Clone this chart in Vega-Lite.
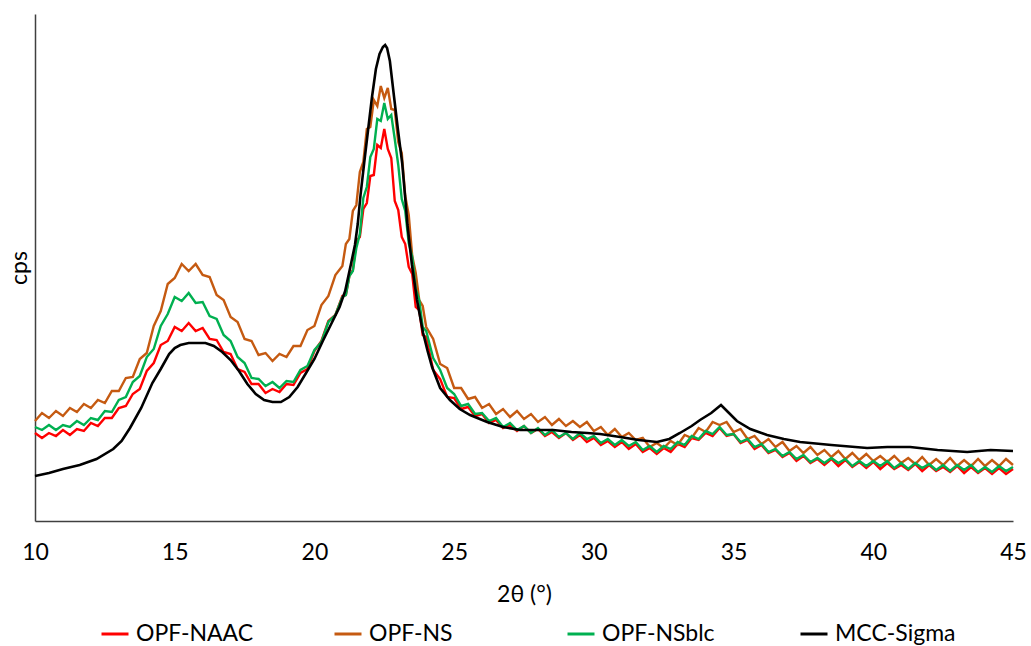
{
"$schema": "https://vega.github.io/schema/vega-lite/v6.json",
"width": 978, "height": 507,
"autosize": {"type": "none"},
"padding": {"left": 35, "top": 14, "right": 18, "bottom": 125},
"config": {"view": {"stroke": null}, "font": "Lato", "axis": {"grid": false}},
"layer": [
{
"data": {"values": [
{"t":10,"OPF-NAAC":88,"OPF-NS":100,"OPF-NSblc":94},
{"t":10.25,"OPF-NAAC":83,"OPF-NS":108,"OPF-NSblc":91},
{"t":10.5,"OPF-NAAC":88,"OPF-NS":103,"OPF-NSblc":96},
{"t":10.75,"OPF-NAAC":85,"OPF-NS":110,"OPF-NSblc":91},
{"t":11,"OPF-NAAC":91,"OPF-NS":105,"OPF-NSblc":96},
{"t":11.25,"OPF-NAAC":86,"OPF-NS":113,"OPF-NSblc":94},
{"t":11.5,"OPF-NAAC":92,"OPF-NS":109,"OPF-NSblc":100},
{"t":11.75,"OPF-NAAC":90,"OPF-NS":117,"OPF-NSblc":96},
{"t":12,"OPF-NAAC":98,"OPF-NS":113,"OPF-NSblc":103},
{"t":12.25,"OPF-NAAC":95,"OPF-NS":121,"OPF-NSblc":101},
{"t":12.5,"OPF-NAAC":103,"OPF-NS":118,"OPF-NSblc":110},
{"t":12.75,"OPF-NAAC":103,"OPF-NS":130,"OPF-NSblc":109},
{"t":13,"OPF-NAAC":113,"OPF-NS":130,"OPF-NSblc":121},
{"t":13.25,"OPF-NAAC":115,"OPF-NS":143,"OPF-NSblc":124},
{"t":13.5,"OPF-NAAC":127,"OPF-NS":144,"OPF-NSblc":139},
{"t":13.75,"OPF-NAAC":132,"OPF-NS":162,"OPF-NSblc":145},
{"t":14,"OPF-NAAC":150,"OPF-NS":168,"OPF-NSblc":164},
{"t":14.25,"OPF-NAAC":158,"OPF-NS":195,"OPF-NSblc":172},
{"t":14.5,"OPF-NAAC":176,"OPF-NS":210,"OPF-NSblc":195},
{"t":14.75,"OPF-NAAC":180,"OPF-NS":237,"OPF-NSblc":207},
{"t":15,"OPF-NAAC":194,"OPF-NS":243,"OPF-NSblc":224},
{"t":15.25,"OPF-NAAC":190,"OPF-NS":257,"OPF-NSblc":220},
{"t":15.5,"OPF-NAAC":198,"OPF-NS":250,"OPF-NSblc":228},
{"t":15.75,"OPF-NAAC":190,"OPF-NS":257,"OPF-NSblc":218},
{"t":16,"OPF-NAAC":193,"OPF-NS":246,"OPF-NSblc":219},
{"t":16.25,"OPF-NAAC":182,"OPF-NS":244,"OPF-NSblc":205},
{"t":16.5,"OPF-NAAC":181,"OPF-NS":226,"OPF-NSblc":202},
{"t":16.75,"OPF-NAAC":169,"OPF-NS":221,"OPF-NSblc":186},
{"t":17,"OPF-NAAC":167,"OPF-NS":204,"OPF-NSblc":180},
{"t":17.25,"OPF-NAAC":152,"OPF-NS":199,"OPF-NSblc":164},
{"t":17.5,"OPF-NAAC":149,"OPF-NS":182,"OPF-NSblc":158},
{"t":17.75,"OPF-NAAC":137,"OPF-NS":180,"OPF-NSblc":143},
{"t":18,"OPF-NAAC":137,"OPF-NS":166,"OPF-NSblc":142},
{"t":18.25,"OPF-NAAC":128,"OPF-NS":168,"OPF-NSblc":135},
{"t":18.5,"OPF-NAAC":132,"OPF-NS":160,"OPF-NSblc":139},
{"t":18.75,"OPF-NAAC":129,"OPF-NS":167,"OPF-NSblc":133},
{"t":19,"OPF-NAAC":137,"OPF-NS":164,"OPF-NSblc":140},
{"t":19.25,"OPF-NAAC":136,"OPF-NS":175,"OPF-NSblc":139},
{"t":19.5,"OPF-NAAC":148,"OPF-NS":175,"OPF-NSblc":151},
{"t":19.75,"OPF-NAAC":152,"OPF-NS":191,"OPF-NSblc":155},
{"t":20,"OPF-NAAC":170,"OPF-NS":195,"OPF-NSblc":171},
{"t":20.25,"OPF-NAAC":180,"OPF-NS":216,"OPF-NSblc":179},
{"t":20.5,"OPF-NAAC":200,"OPF-NS":225,"OPF-NSblc":199},
{"t":20.75,"OPF-NAAC":206,"OPF-NS":246,"OPF-NSblc":206},
{"t":21,"OPF-NAAC":225,"OPF-NS":255,"OPF-NSblc":224},
{"t":21.125,"OPF-NAAC":226,"OPF-NS":277,"OPF-NSblc":226},
{"t":21.25,"OPF-NAAC":245,"OPF-NS":282,"OPF-NSblc":245},
{"t":21.375,"OPF-NAAC":251,"OPF-NS":310,"OPF-NSblc":250},
{"t":21.5,"OPF-NAAC":280,"OPF-NS":316,"OPF-NSblc":273},
{"t":21.625,"OPF-NAAC":284,"OPF-NS":349,"OPF-NSblc":287},
{"t":21.75,"OPF-NAAC":312,"OPF-NS":359,"OPF-NSblc":323},
{"t":21.875,"OPF-NAAC":318,"OPF-NS":392,"OPF-NSblc":334},
{"t":22,"OPF-NAAC":345,"OPF-NS":394,"OPF-NSblc":364},
{"t":22.125,"OPF-NAAC":346,"OPF-NS":421,"OPF-NSblc":372},
{"t":22.25,"OPF-NAAC":376,"OPF-NS":415,"OPF-NSblc":402},
{"t":22.375,"OPF-NAAC":373,"OPF-NS":435,"OPF-NSblc":400},
{"t":22.5,"OPF-NAAC":392,"OPF-NS":423,"OPF-NSblc":418},
{"t":22.625,"OPF-NAAC":372,"OPF-NS":433,"OPF-NSblc":402},
{"t":22.75,"OPF-NAAC":363,"OPF-NS":412,"OPF-NSblc":406},
{"t":22.875,"OPF-NAAC":320,"OPF-NS":411,"OPF-NSblc":382},
{"t":23,"OPF-NAAC":311,"OPF-NS":379,"OPF-NSblc":356},
{"t":23.125,"OPF-NAAC":284,"OPF-NS":368,"OPF-NSblc":322},
{"t":23.25,"OPF-NAAC":277,"OPF-NS":325,"OPF-NSblc":310},
{"t":23.375,"OPF-NAAC":254,"OPF-NS":306,"OPF-NSblc":278},
{"t":23.5,"OPF-NAAC":247,"OPF-NS":265,"OPF-NSblc":264},
{"t":23.625,"OPF-NAAC":214,"OPF-NS":248,"OPF-NSblc":232},
{"t":23.75,"OPF-NAAC":211,"OPF-NS":221,"OPF-NSblc":221},
{"t":23.875,"OPF-NAAC":186,"OPF-NS":215,"OPF-NSblc":194},
{"t":24,"OPF-NAAC":184,"OPF-NS":194,"OPF-NSblc":190},
{"t":24.25,"OPF-NAAC":151,"OPF-NS":182,"OPF-NSblc":163},
{"t":24.5,"OPF-NAAC":142,"OPF-NS":157,"OPF-NSblc":151},
{"t":24.75,"OPF-NAAC":124,"OPF-NS":153,"OPF-NSblc":133},
{"t":25,"OPF-NAAC":123,"OPF-NS":133,"OPF-NSblc":127},
{"t":25.25,"OPF-NAAC":112,"OPF-NS":133,"OPF-NSblc":115},
{"t":25.5,"OPF-NAAC":114,"OPF-NS":122,"OPF-NSblc":117},
{"t":25.75,"OPF-NAAC":105,"OPF-NS":124,"OPF-NSblc":107},
{"t":26,"OPF-NAAC":107,"OPF-NS":113,"OPF-NSblc":108},
{"t":26.25,"OPF-NAAC":98,"OPF-NS":117,"OPF-NSblc":100},
{"t":26.5,"OPF-NAAC":101,"OPF-NS":107,"OPF-NSblc":103},
{"t":26.75,"OPF-NAAC":93,"OPF-NS":112,"OPF-NSblc":94},
{"t":27,"OPF-NAAC":96,"OPF-NS":104,"OPF-NSblc":98},
{"t":27.25,"OPF-NAAC":90,"OPF-NS":110,"OPF-NSblc":91},
{"t":27.5,"OPF-NAAC":95,"OPF-NS":102,"OPF-NSblc":95},
{"t":27.75,"OPF-NAAC":88,"OPF-NS":107,"OPF-NSblc":88},
{"t":28,"OPF-NAAC":92,"OPF-NS":99,"OPF-NSblc":93},
{"t":28.25,"OPF-NAAC":85,"OPF-NS":104,"OPF-NSblc":86},
{"t":28.5,"OPF-NAAC":89,"OPF-NS":96,"OPF-NSblc":91},
{"t":28.75,"OPF-NAAC":83,"OPF-NS":102,"OPF-NSblc":84},
{"t":29,"OPF-NAAC":88,"OPF-NS":95,"OPF-NSblc":88},
{"t":29.25,"OPF-NAAC":81,"OPF-NS":100,"OPF-NSblc":82},
{"t":29.5,"OPF-NAAC":86,"OPF-NS":94,"OPF-NSblc":88},
{"t":29.75,"OPF-NAAC":79,"OPF-NS":99,"OPF-NSblc":82},
{"t":30,"OPF-NAAC":83,"OPF-NS":90,"OPF-NSblc":85},
{"t":30.25,"OPF-NAAC":76,"OPF-NS":94,"OPF-NSblc":78},
{"t":30.5,"OPF-NAAC":80,"OPF-NS":86,"OPF-NSblc":82},
{"t":30.75,"OPF-NAAC":74,"OPF-NS":92,"OPF-NSblc":76},
{"t":31,"OPF-NAAC":79,"OPF-NS":84,"OPF-NSblc":81},
{"t":31.25,"OPF-NAAC":72,"OPF-NS":88,"OPF-NSblc":75},
{"t":31.5,"OPF-NAAC":77,"OPF-NS":81,"OPF-NSblc":79},
{"t":31.75,"OPF-NAAC":69,"OPF-NS":83,"OPF-NSblc":71},
{"t":32,"OPF-NAAC":73,"OPF-NS":74,"OPF-NSblc":75},
{"t":32.25,"OPF-NAAC":67,"OPF-NS":78,"OPF-NSblc":69},
{"t":32.5,"OPF-NAAC":73,"OPF-NS":73,"OPF-NSblc":75},
{"t":32.75,"OPF-NAAC":69,"OPF-NS":80,"OPF-NSblc":72},
{"t":33,"OPF-NAAC":77,"OPF-NS":76,"OPF-NSblc":79},
{"t":33.25,"OPF-NAAC":74,"OPF-NS":86,"OPF-NSblc":76},
{"t":33.5,"OPF-NAAC":83,"OPF-NS":83,"OPF-NSblc":85},
{"t":33.75,"OPF-NAAC":81,"OPF-NS":93,"OPF-NSblc":82},
{"t":34,"OPF-NAAC":88,"OPF-NS":89,"OPF-NSblc":90},
{"t":34.25,"OPF-NAAC":85,"OPF-NS":99,"OPF-NSblc":87},
{"t":34.5,"OPF-NAAC":93,"OPF-NS":96,"OPF-NSblc":94},
{"t":34.75,"OPF-NAAC":85,"OPF-NS":99,"OPF-NSblc":86},
{"t":35,"OPF-NAAC":87,"OPF-NS":89,"OPF-NSblc":87},
{"t":35.25,"OPF-NAAC":78,"OPF-NS":92,"OPF-NSblc":79},
{"t":35.5,"OPF-NAAC":81,"OPF-NS":82,"OPF-NSblc":82},
{"t":35.75,"OPF-NAAC":72,"OPF-NS":85,"OPF-NSblc":74},
{"t":36,"OPF-NAAC":76,"OPF-NS":77,"OPF-NSblc":77},
{"t":36.25,"OPF-NAAC":68,"OPF-NS":82,"OPF-NSblc":69},
{"t":36.5,"OPF-NAAC":71,"OPF-NS":74,"OPF-NSblc":72},
{"t":36.75,"OPF-NAAC":64,"OPF-NS":79,"OPF-NSblc":65},
{"t":37,"OPF-NAAC":68,"OPF-NS":70,"OPF-NSblc":69},
{"t":37.25,"OPF-NAAC":60,"OPF-NS":75,"OPF-NSblc":62},
{"t":37.5,"OPF-NAAC":65,"OPF-NS":68,"OPF-NSblc":66},
{"t":37.75,"OPF-NAAC":58,"OPF-NS":74,"OPF-NSblc":59},
{"t":38,"OPF-NAAC":62,"OPF-NS":66,"OPF-NSblc":63},
{"t":38.25,"OPF-NAAC":56,"OPF-NS":71,"OPF-NSblc":58},
{"t":38.5,"OPF-NAAC":62,"OPF-NS":64,"OPF-NSblc":63},
{"t":38.75,"OPF-NAAC":55,"OPF-NS":70,"OPF-NSblc":58},
{"t":39,"OPF-NAAC":61,"OPF-NS":62,"OPF-NSblc":62},
{"t":39.25,"OPF-NAAC":54,"OPF-NS":68,"OPF-NSblc":55},
{"t":39.5,"OPF-NAAC":59,"OPF-NS":61,"OPF-NSblc":60},
{"t":39.75,"OPF-NAAC":53,"OPF-NS":67,"OPF-NSblc":55},
{"t":40,"OPF-NAAC":59,"OPF-NS":60,"OPF-NSblc":60},
{"t":40.25,"OPF-NAAC":52,"OPF-NS":65,"OPF-NSblc":55},
{"t":40.5,"OPF-NAAC":58,"OPF-NS":59,"OPF-NSblc":60},
{"t":40.75,"OPF-NAAC":52,"OPF-NS":65,"OPF-NSblc":53},
{"t":41,"OPF-NAAC":56,"OPF-NS":58,"OPF-NSblc":58},
{"t":41.25,"OPF-NAAC":51,"OPF-NS":63,"OPF-NSblc":52},
{"t":41.5,"OPF-NAAC":57,"OPF-NS":57,"OPF-NSblc":58},
{"t":41.75,"OPF-NAAC":50,"OPF-NS":64,"OPF-NSblc":53},
{"t":42,"OPF-NAAC":56,"OPF-NS":56,"OPF-NSblc":57},
{"t":42.25,"OPF-NAAC":50,"OPF-NS":62,"OPF-NSblc":51},
{"t":42.5,"OPF-NAAC":54,"OPF-NS":56,"OPF-NSblc":56},
{"t":42.75,"OPF-NAAC":49,"OPF-NS":63,"OPF-NSblc":50},
{"t":43,"OPF-NAAC":55,"OPF-NS":55,"OPF-NSblc":56},
{"t":43.25,"OPF-NAAC":48,"OPF-NS":61,"OPF-NSblc":51},
{"t":43.5,"OPF-NAAC":54,"OPF-NS":55,"OPF-NSblc":56},
{"t":43.75,"OPF-NAAC":48,"OPF-NS":62,"OPF-NSblc":49},
{"t":44,"OPF-NAAC":53,"OPF-NS":55,"OPF-NSblc":54},
{"t":44.25,"OPF-NAAC":47,"OPF-NS":61,"OPF-NSblc":49},
{"t":44.5,"OPF-NAAC":53,"OPF-NS":55,"OPF-NSblc":55},
{"t":44.75,"OPF-NAAC":47,"OPF-NS":62,"OPF-NSblc":50},
{"t":45,"OPF-NAAC":52,"OPF-NS":56,"OPF-NSblc":54}
]},
"transform": [{"fold": ["OPF-NAAC", "OPF-NS", "OPF-NSblc"], "as": ["s", "v"]}],
"mark": {"type": "line", "strokeWidth": 2.4},
"encoding": {
"x": {"field": "t", "type": "quantitative", "scale": {"domain": [10, 45], "nice": false},
"axis": {"title": "2θ (°)", "values": [10, 15, 20, 25, 30, 35, 40, 45], "ticks": false, "labelFontSize": 23, "titleFontSize": 23, "titleFontWeight": "normal", "labelPadding": 20, "titlePadding": 19, "domainColor": "#404040", "domainWidth": 1.5, "labelColor": "#000000", "titleColor": "#000000", "labelFlush": false}},
"y": {"field": "v", "type": "quantitative", "scale": {"domain": [0, 507], "nice": false},
"axis": {"title": "cps", "labels": false, "ticks": false, "domainColor": "#404040", "domainWidth": 1.5, "titleFontSize": 23, "titleFontWeight": "normal", "titlePadding": 4, "titleColor": "#000000"}},
"color": {"field": "s", "type": "nominal",
"scale": {"domain": ["OPF-NAAC", "OPF-NS", "OPF-NSblc", "MCC-Sigma"], "range": ["#FF0000", "#C55A11", "#00B050", "#000000"]},
"legend": {"orient": "none", "legendX": 65, "legendY": 605, "direction": "horizontal", "columns": 4, "gridAlign": "all", "columnPadding": 71, "symbolType": "stroke", "symbolSize": 729, "symbolStrokeWidth": 3, "labelFontSize": 23, "labelColor": "#000000", "labelOffset": 6, "title": null, "labelLimit": 300, "padding": 0}}
}
},
{
"data": {"values": [
{"t":10,"v":45},{"t":10.5,"v":48},{"t":11,"v":52},{"t":11.6,"v":56},{"t":12.2,"v":62},{"t":12.8,"v":72},{"t":13.1,"v":80},{"t":13.4,"v":93},{"t":13.8,"v":113},{"t":14.2,"v":138},{"t":14.5,"v":152},{"t":14.8,"v":167},{"t":15,"v":173},{"t":15.2,"v":176},{"t":15.5,"v":178},{"t":15.8,"v":178},{"t":16.1,"v":178},{"t":16.4,"v":175},{"t":16.7,"v":169},{"t":17,"v":161},{"t":17.3,"v":150},{"t":17.6,"v":137},{"t":17.9,"v":127},{"t":18.2,"v":121},{"t":18.5,"v":119},{"t":18.8,"v":119},{"t":19.1,"v":124},{"t":19.4,"v":134},{"t":19.7,"v":148},{"t":20,"v":162},{"t":20.3,"v":180},{"t":20.6,"v":197},{"t":20.9,"v":214},{"t":21.1,"v":230},{"t":21.3,"v":256},{"t":21.45,"v":276},{"t":21.55,"v":297},{"t":21.65,"v":326},{"t":21.78,"v":358},{"t":21.92,"v":391},{"t":22.06,"v":424},{"t":22.2,"v":452},{"t":22.33,"v":467},{"t":22.45,"v":474},{"t":22.53,"v":476},{"t":22.6,"v":473},{"t":22.7,"v":460},{"t":22.85,"v":424},{"t":22.99,"v":391},{"t":23.14,"v":358},{"t":23.24,"v":326},{"t":23.33,"v":296},{"t":23.49,"v":256},{"t":23.67,"v":221},{"t":23.89,"v":188},{"t":24.05,"v":170},{"t":24.21,"v":154},{"t":24.5,"v":133},{"t":24.85,"v":121},{"t":25.2,"v":112},{"t":25.57,"v":106},{"t":26.18,"v":99},{"t":26.75,"v":94},{"t":27.36,"v":91},{"t":28,"v":91},{"t":28.54,"v":91},{"t":29.2,"v":89},{"t":29.76,"v":88},{"t":30.22,"v":87},{"t":30.94,"v":84},{"t":31.6,"v":81},{"t":32.26,"v":79},{"t":32.7,"v":82},{"t":33.08,"v":88},{"t":33.5,"v":95},{"t":33.8,"v":101},{"t":34.2,"v":108},{"t":34.55,"v":116},{"t":34.8,"v":109},{"t":35.12,"v":100},{"t":35.6,"v":92},{"t":36.2,"v":86},{"t":36.8,"v":82},{"t":37.38,"v":79},{"t":38.5,"v":76},{"t":39.78,"v":73},{"t":40.5,"v":74},{"t":41.32,"v":74},{"t":42.3,"v":71},{"t":43.36,"v":69},{"t":44.2,"v":71},{"t":45,"v":70}
]},
"mark": {"type": "line", "strokeWidth": 2.6},
"encoding": {
"x": {"field": "t", "type": "quantitative"},
"y": {"field": "v", "type": "quantitative"},
"color": {"datum": "MCC-Sigma", "type": "nominal"}
}
}
]
}
